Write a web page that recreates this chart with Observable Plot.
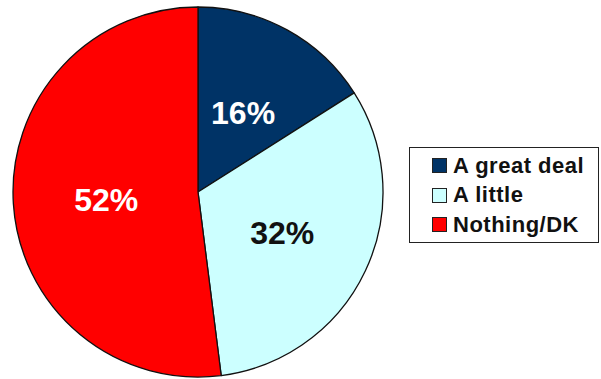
<!DOCTYPE html>
<html>
<head>
<meta charset="utf-8">
<script src="https://cdn.jsdelivr.net/npm/d3@7"></script>
<script src="https://cdn.jsdelivr.net/npm/@observablehq/plot@0.6"></script>
<style>
  html, body { margin: 0; padding: 0; background: #fff; }
  #wrap { position: relative; width: 601px; height: 379px; overflow: hidden; }
  #legend {
    position: absolute; left: 409px; top: 147px; width: 190px; height: 96px;
    border: 1.5px solid #222; box-sizing: border-box; background: #fff;
    font-family: "Liberation Sans", Arial, sans-serif; font-weight: bold; font-size: 22px;
    letter-spacing: 0.5px; color: #111; padding-top: 3px;
  }
  .row { display: flex; align-items: center; height: 29.5px; padding-left: 22px; white-space: nowrap; }
  .sw { width: 15px; height: 15px; border: 1.5px solid #222; box-sizing: border-box; margin-right: 6px; flex: none; }
</style>
</head>
<body>
<div id="wrap"></div>
<script>
const categories = ["A great deal", "A little", "Nothing/DK"];
const values = [16, 32, 52];
const labels = ["16%", "32%", "52%"];
const colors = ["#003366", "#CCFFFF", "#FF0000"];
const labelColors = ["#ffffff", "#111111", "#ffffff"];

const data = categories.map((c, i) => ({category: c, value: values[i], label: labels[i], labelColor: labelColors[i]}));
const arcs = d3.pie().sort(null).value(d => d.value)(data);
arcs.forEach(a => {
  const mid = (a.startAngle + a.endAngle) / 2;
  a.data.lx = 0.5 * Math.sin(mid);
  a.data.ly = 0.5 * Math.cos(mid);
});

function pieMark(index, scales, values, dimensions, context) {
  const cx = scales.x(0), cy = scales.y(0);
  const r = scales.x(1) - scales.x(0);
  const g = d3.create("svg:g").attr("transform", `translate(${cx},${cy})`);
  const arc = d3.arc().innerRadius(0).outerRadius(r);
  g.selectAll("path").data(arcs).join("path")
    .attr("d", arc)
    .attr("fill", d => scales.color(d.data.category))
    .attr("stroke", "#111")
    .attr("stroke-width", 1.3)
    .attr("stroke-linejoin", "round");
  return g.node();
}

const chart = Plot.plot({
  width: 601,
  height: 379,
  margin: 0,
  x: {domain: [-1, 1], range: [13, 383], axis: null},
  y: {domain: [-1, 1], range: [377, 7], axis: null},
  color: {domain: categories, range: colors},
  style: {background: "#fff", overflow: "visible"},
  marks: [
    pieMark,
    Plot.text(data, {
      x: "lx", y: "ly", text: "label",
      fill: d => d.labelColor,
      fontSize: 32, fontWeight: "bold",
      fontFamily: "Liberation Sans, Arial, sans-serif",
      dy: 2
    })
  ]
});

const wrap = document.getElementById("wrap");
wrap.appendChild(chart);

const legend = document.createElement("div");
legend.id = "legend";
categories.forEach((c, i) => {
  const row = document.createElement("div");
  row.className = "row";
  const sw = document.createElement("span");
  sw.className = "sw";
  sw.style.background = colors[i];
  const t = document.createElement("span");
  t.textContent = c;
  row.appendChild(sw);
  row.appendChild(t);
  legend.appendChild(row);
});
wrap.appendChild(legend);
</script>
</body>
</html>
